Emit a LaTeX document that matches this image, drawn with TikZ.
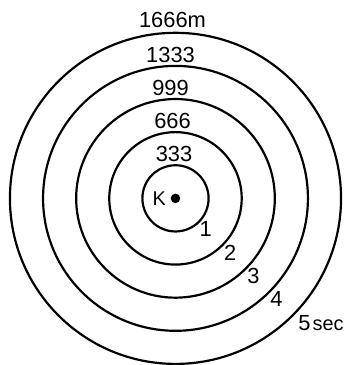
\documentclass[tikz,border=0pt]{standalone}
\usepackage{fontspec}
\setmainfont{Liberation Sans}
\usetikzlibrary{positioning}

\begin{document}
\begin{tikzpicture}[x=1pt,y=1pt,
        font=\fontsize{22}{26}\selectfont,
        ring/.style={draw=black,line width=2.2pt},
        dist/.style={inner sep=0pt,anchor=center},
        sec/.style={inner sep=0pt,anchor=center}]
      \path[fill=white] (-176.5,-165.5) rectangle (178.5,199.5);
      \coordinate (k) at (0,0);
      \draw[ring] (k) circle (33.3);
      \draw[ring] (k) circle (66.6);
      \draw[ring] (k) circle (99.9);
      \draw[ring] (k) circle (133.2);
      \draw[ring] (k) circle (166.5);
      \fill (k) circle (4.8);
      \node[left=9.5pt of k,inner sep=0pt,font=\fontsize{20}{24}\selectfont] (klabel) {K};
      % distances
      \node[dist] (d5) at (-3,179.5) {1666m};
      \node[dist] (d4) at (-5,144.5) {1333};
      \node[dist] (d3) at (-5,111.5) {999};
      \node[dist] (d2) at (-3,77.5) {666};
      \node[dist] (d1) at (-1.5,44.5) {333};
      % times
      \node[sec] (t1) at (-45:43) {1};
      \node[sec] (t2) at (-45:78) {2};
      \node[sec] (t3) at (-45:111) {3};
      \node[sec] (t4) at (-45:143.5) {4};
      \node[sec,anchor=west] (t5) at (123.5,-125.5) {5\kern2pt{\fontsize{20}{24}\selectfont sec}};
    \end{tikzpicture}
\end{document}
